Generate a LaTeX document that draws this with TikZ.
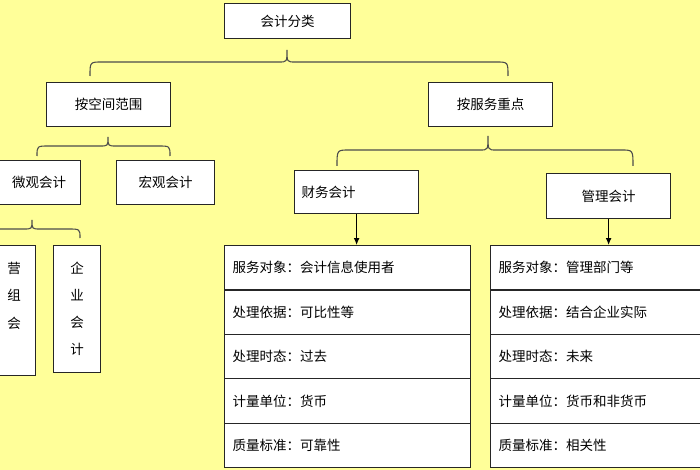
\documentclass[tikz,border=0pt]{standalone}
\usepackage{fontspec}
\usetikzlibrary{arrows.meta}
\setmainfont{Noto Sans CJK SC}
\definecolor{bgy}{RGB}{255,255,153}
\tikzset{
  box/.style={draw=black!85,line width=1.2pt,fill=white,inner sep=0pt,anchor=north west,font=\fontsize{13.5}{15}\selectfont},
  br/.style={draw=black!70,line width=1.1pt},
  cell/.style={draw=black!85,line width=1.2pt,fill=white,anchor=north west,minimum height=44.4pt,text width=230pt,inner sep=0pt,inner xsep=8pt,align=left,font=\fontsize{13.5}{15}\selectfont},
}
\newcommand{\mybr}[6]{% x1 x2 xm ytip yline yend
  \draw[br] (#1pt,-#6pt) .. controls (#1pt,-#5pt) .. (#1pt+12pt,-#5pt) -- (#3pt-8pt,-#5pt) .. controls (#3pt,-#5pt) .. (#3pt,-#4pt)
    .. controls (#3pt,-#5pt) .. (#3pt+8pt,-#5pt) -- (#2pt-12pt,-#5pt) .. controls (#2pt,-#5pt) .. (#2pt,-#6pt);}
\begin{document}
\begin{tikzpicture}[x=1pt,y=1pt]
\fill[bgy] (0,0) rectangle (700,-470);
\useasboundingbox (0,0) rectangle (700,-470);
\begin{scope}
\clip (0,0) rectangle (700,-470);
\node[box,minimum width=126pt,minimum height=35pt] (root) at (224,-3) {会计分类};
\node[box,minimum width=124pt,minimum height=44pt] (kj) at (46,-82) {按空间范围};
\node[box,minimum width=124pt,minimum height=44pt] (fw) at (428,-82) {按服务重点};
\node[box,minimum width=88pt,minimum height=44pt] (wg) at (-8,-160) {\hspace*{5pt}微观会计};
\node[box,minimum width=98pt,minimum height=44pt] (hg) at (116,-160) {宏观会计};
\node[box,minimum width=124pt,minimum height=43pt,align=left,text width=110pt,inner xsep=7pt] (cw) at (294,-170) {财务会计};
\node[box,minimum width=124pt,minimum height=45pt] (gl) at (546,-173) {管理会计};
\node[box,minimum width=43pt,minimum height=130pt,text width=43pt,align=center,anchor=north west] (yz) at (-8,-245) {\shortstack{营\\[12pt]组\\[12pt]会\\[12pt]\strut}};
\node[box,minimum width=47pt,minimum height=127pt,text width=47pt,align=center] (qy) at (53,-245) {\shortstack{企\\[12pt]业\\[12pt]会\\[12pt]计}};
\foreach \t [count=\i from 0] in {服务对象：会计信息使用者,处理依据：可比性等,处理时态：过去,计量单位：货币,质量标准：可靠性}
  \node[cell] (a\i) at (224,-245-44.4*\i) {\t};
\foreach \t [count=\i from 0] in {服务对象：管理部门等,处理依据：结合企业实际,处理时态：未来,计量单位：货币和非货币,质量标准：相关性}
  \node[cell] (b\i) at (490,-245-44.4*\i) {\t};
\draw[line width=1.2pt,-{Latex[length=7pt,width=6pt]}] (cw.south) -- (a0.north -| cw.south);
\draw[line width=1.2pt,-{Latex[length=7pt,width=6pt]}] (gl.south) -- (b0.north -| gl.south);
\mybr{90}{508}{287}{50}{62}{76}
\mybr{37}{170}{108}{137}{146}{156}
\mybr{337}{633}{488}{136}{150}{166}
\mybr{-40}{80}{32}{220}{229}{238}
\end{scope}
\end{tikzpicture}
\end{document}
